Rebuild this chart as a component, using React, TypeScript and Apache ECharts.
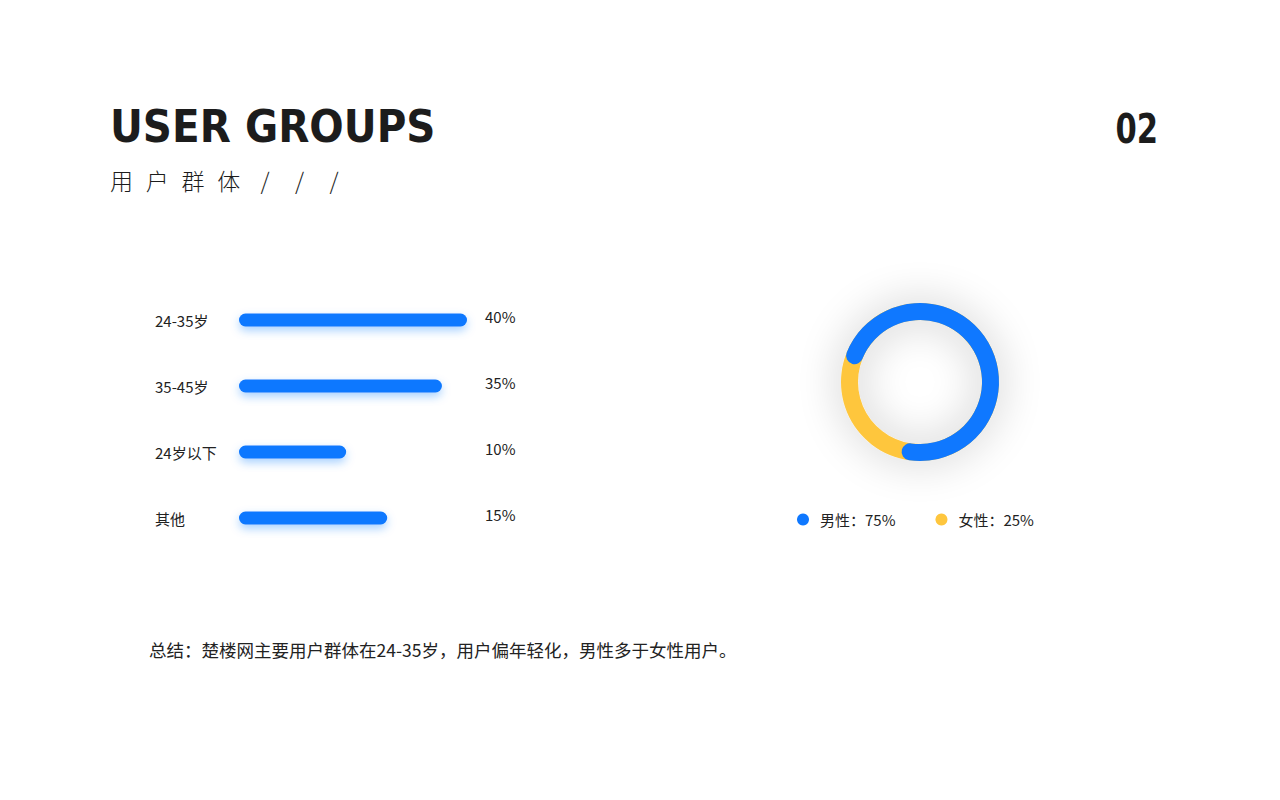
import React, { useEffect, useRef } from 'react';
import * as echarts from 'echarts';

const ageGroups = ['24-35岁', '35-45岁', '24岁以下', '其他'];
const ageShares = [40, 35, 10, 15];
// bar lengths as drawn on the slide (longest = 100); they are not to scale with the shares
const barLengths = [100, 89, 47, 65];

const genders = ['男性', '女性'];
const genderShares = [75, 25];

const BLUE = '#0f78ff';
const YELLOW = '#fec63e';
const TEXT = '#222';
const CJK = "'Noto Sans CJK SC', 'Noto Sans', sans-serif";

export default function App() {
    const chartRef = useRef<HTMLDivElement>(null);

    useEffect(() => {
        const chart = echarts.init(chartRef.current!, null, { renderer: 'svg' });

        chart.setOption({
            animation: false,
            backgroundColor: '#fff',
            grid: { left: 239, top: 287, width: 228, height: 264 },
            xAxis: { type: 'value', min: 0, max: 100, show: false },
            yAxis: [
                {
                    type: 'category',
                    data: ageGroups,
                    inverse: true,
                    axisLine: { show: false },
                    axisTick: { show: false },
                    splitLine: { show: false },
                    axisLabel: { align: 'left', margin: 84, color: TEXT, fontSize: 15, fontFamily: CJK },
                },
                {
                    type: 'category',
                    position: 'right',
                    data: ageShares.map((v) => v + '%'),
                    inverse: true,
                    axisLine: { show: false },
                    axisTick: { show: false },
                    splitLine: { show: false },
                    axisLabel: {
                        align: 'left',
                        verticalAlign: 'bottom',
                        lineHeight: 8,
                        margin: 18,
                        color: TEXT,
                        fontSize: 15,
                        fontFamily: CJK,
                    },
                },
            ],
            legend: {
                left: 792,
                top: 507,
                icon: 'circle',
                itemWidth: 12,
                itemHeight: 12,
                itemGap: 40,
                selectedMode: false,
                data: genders.map((g, i) => ({ name: g, itemStyle: { color: [BLUE, YELLOW][i] } })),
                formatter: (name: string) => `${name}：${genderShares[genders.indexOf(name)]}%`,
                textStyle: { color: TEXT, fontSize: 15, fontFamily: CJK, padding: [0, 0, 0, 6] },
            },
            series: [
                {
                    type: 'bar',
                    silent: true,
                    yAxisIndex: 0,
                    data: barLengths,
                    barWidth: 13,
                    itemStyle: {
                        color: BLUE,
                        borderRadius: 7,
                        shadowColor: 'rgba(15,120,255,0.35)',
                        shadowBlur: 10,
                        shadowOffsetY: 4,
                    },
                },
                {
                    // yellow ring underneath, also casts the soft grey shadow
                    type: 'pie',
                    silent: true,
                    center: [920, 382],
                    radius: [62, 79],
                    label: { show: false },
                    labelLine: { show: false },
                    data: [
                        {
                            name: genders[1],
                            value: genderShares[1],
                            itemStyle: { color: YELLOW, shadowBlur: 40, shadowColor: 'rgba(0,0,0,0.24)' },
                        },
                    ],
                },
                {
                    type: 'pie',
                    silent: true,
                    center: [920, 382],
                    radius: [62, 79],
                    startAngle: 165,
                    clockwise: true,
                    label: { show: false },
                    labelLine: { show: false },
                    data: [
                        { name: genders[0], value: genderShares[0], itemStyle: { color: BLUE, borderRadius: 9 } },
                        { name: genders[1], value: genderShares[1], itemStyle: { color: 'transparent' } },
                    ],
                },
            ],
            graphic: [
                {
                    type: 'text',
                    x: 110,
                    y: 126,
                    style: {
                        text: 'USER GROUPS',
                        fill: '#1c1c1c',
                        fontSize: 45,
                        fontWeight: 'bold',
                        fontFamily: "'DejaVu Sans Condensed', 'DejaVu Sans', sans-serif",
                        align: 'left',
                        verticalAlign: 'middle',
                    },
                },
                {
                    type: 'text',
                    x: 1158,
                    y: 129,
                    scaleX: 0.83,
                    style: {
                        text: '02',
                        fill: '#1c1c1c',
                        fontSize: 41,
                        fontWeight: 'bold',
                        fontFamily: "'Liberation Sans Narrow', 'DejaVu Sans Condensed', sans-serif",
                        align: 'right',
                        verticalAlign: 'middle',
                    },
                },
                {
                    type: 'text',
                    x: 110,
                    y: 180,
                    style: {
                        text: '用 \u2004户 \u2004群 \u2004体    /     /     /',
                        fill: '#1c1c1c',
                        fontSize: 23,
                        fontWeight: 300,
                        fontFamily: CJK,
                        align: 'left',
                        verticalAlign: 'middle',
                    },
                },
                {
                    type: 'text',
                    x: 149,
                    y: 649,
                    style: {
                        text: '总结：楚楼网主要用户群体在24-35岁，用户偏年轻化，男性多于女性用户。',
                        fill: TEXT,
                        fontSize: 17.5,
                        fontFamily: CJK,
                        align: 'left',
                        verticalAlign: 'middle',
                    },
                },
            ],
        });

        return () => {
            chart.dispose();
        };
    }, []);

    return (
        <div
            ref={chartRef}
            style={{ position: 'absolute', left: 0, top: 0, width: 1280, height: 800 }}
        />
    );
}
